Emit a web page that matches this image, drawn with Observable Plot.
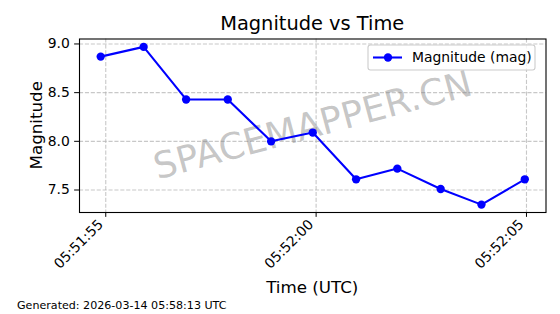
<!DOCTYPE html>
<html><head><meta charset="utf-8">
<script src="https://cdn.jsdelivr.net/npm/d3@7"></script>
<script src="https://cdn.jsdelivr.net/npm/@observablehq/plot@0.6"></script>
<style>
html,body{margin:0;padding:0;background:#fff;}
svg{display:block;}
</style></head><body><div id="chart"></div>
<script>
const obsDate = "2026-03-14";
const times = ["05:51:54.88","05:51:55.90","05:51:56.91","05:51:57.90","05:51:58.93","05:51:59.92","05:52:00.95","05:52:01.93","05:52:02.96","05:52:03.93","05:52:04.96"];
const magnitudes = [8.87, 8.97, 8.43, 8.43, 8.00, 8.09, 7.61, 7.72, 7.51, 7.35, 7.61];
const xTickLabels = ["05:51:55", "05:52:00", "05:52:05"];
const yTicks = [7.5, 8.0, 8.5, 9.0];
const titleText = "Magnitude vs Time";
const xLabel = "Time (UTC)";
const yLabel = "Magnitude";
const legendLabel = "Magnitude (mag)";
const watermark = "SPACEMAPPER.CN";
const footer = "Generated: 2026-03-14 05:58:13 UTC";

const toDate = t => new Date(obsDate + "T" + t + "Z");
const data = times.map((t, i) => ({time: toDate(t), mag: magnitudes[i]}));
const xTicks = xTickLabels.map(toDate);

function padded(ext) {
  const p = (ext[1] - ext[0]) * 0.05;
  return [ext[0] - p, ext[1] + p];
}
const xExt = d3.extent(data, d => +d.time);
const xDom = padded(xExt).map(v => new Date(v));
const yDom = padded(d3.extent(magnitudes));

const W = 560, H = 314;
const mL = 79, mR = 14.5, mT = 38.5, mB = 102;
const blue = "#0000ff";
const grid = {stroke: "#b0b0b0", strokeOpacity: 0.7, strokeWidth: 1.1, strokeDasharray: "4.1,1.8"};

const chart = Plot.plot({
  width: W, height: H,
  marginLeft: mL, marginRight: mR, marginTop: mT, marginBottom: mB,
  style: {fontFamily: "DejaVu Sans", fontSize: "13.9px", color: "black", background: "white"},
  x: {type: "utc", domain: xDom},
  y: {domain: yDom},
  marks: [
    Plot.gridX(xTicks, grid),
    Plot.gridY(yTicks, grid),
    Plot.text([watermark], {frameAnchor: "middle", text: d => d, rotate: -15, fontSize: 36.5, fill: "gray", fillOpacity: 0.45}),
    Plot.line(data, {x: "time", y: "mag", stroke: blue, strokeWidth: 2.08}),
    Plot.dot(data, {x: "time", y: "mag", r: 4.17, fill: blue, stroke: "none"}),
    Plot.frame({stroke: "black", strokeWidth: 1.1}),
    Plot.axisY(yTicks, {tickSize: 4.86, tickPadding: 4.86, tickFormat: d3.format(".1f"), label: null, fontSize: 13.9}),
    Plot.axisX(xTicks, {tickSize: 4.86, fill: "none", label: null}),
    Plot.axisX(xTicks, {stroke: "none", tickRotate: -45, tickSize: 4.86, tickPadding: 4.86, dx: -5, tickFormat: d3.utcFormat("%H:%M:%S"), label: null, fontSize: 13.9})
  ]
});

const svg = d3.select(chart);
const cx = mL + (W - mL - mR) / 2;
const cy = mT + (H - mT - mB) / 2;
svg.append("text").attr("x", cx).attr("y", 30).attr("text-anchor", "middle")
  .attr("font-size", "19.4px").attr("fill", "black").text(titleText);
svg.append("text").attr("transform", `translate(41.5,${cy}) rotate(-90)`).attr("text-anchor", "middle")
  .attr("font-size", "16.7px").attr("fill", "black").text(yLabel);
svg.append("text").attr("x", cx).attr("y", 293).attr("text-anchor", "middle")
  .attr("font-size", "16.7px").attr("fill", "black").text(xLabel);
svg.append("text").attr("x", 17).attr("y", 309).attr("text-anchor", "start")
  .attr("font-size", "11.1px").attr("fill", "black").text(footer);

const lg = svg.append("g");
lg.append("rect").attr("x", 368).attr("y", 45).attr("width", 167).attr("height", 25).attr("rx", 2.5)
  .attr("fill", "white").attr("fill-opacity", 0.8).attr("stroke", "#cccccc").attr("stroke-width", 1.1);
lg.append("line").attr("x1", 373).attr("x2", 402).attr("y1", 57.5).attr("y2", 57.5)
  .attr("stroke", blue).attr("stroke-width", 2.08);
lg.append("circle").attr("cx", 388).attr("cy", 57.5).attr("r", 4.17).attr("fill", blue);
lg.append("text").attr("x", 412).attr("y", 57.5).attr("dy", "0.35em").attr("text-anchor", "start")
  .attr("font-size", "13.9px").attr("fill", "black").text(legendLabel);

document.getElementById("chart").appendChild(chart);
</script></body></html>
